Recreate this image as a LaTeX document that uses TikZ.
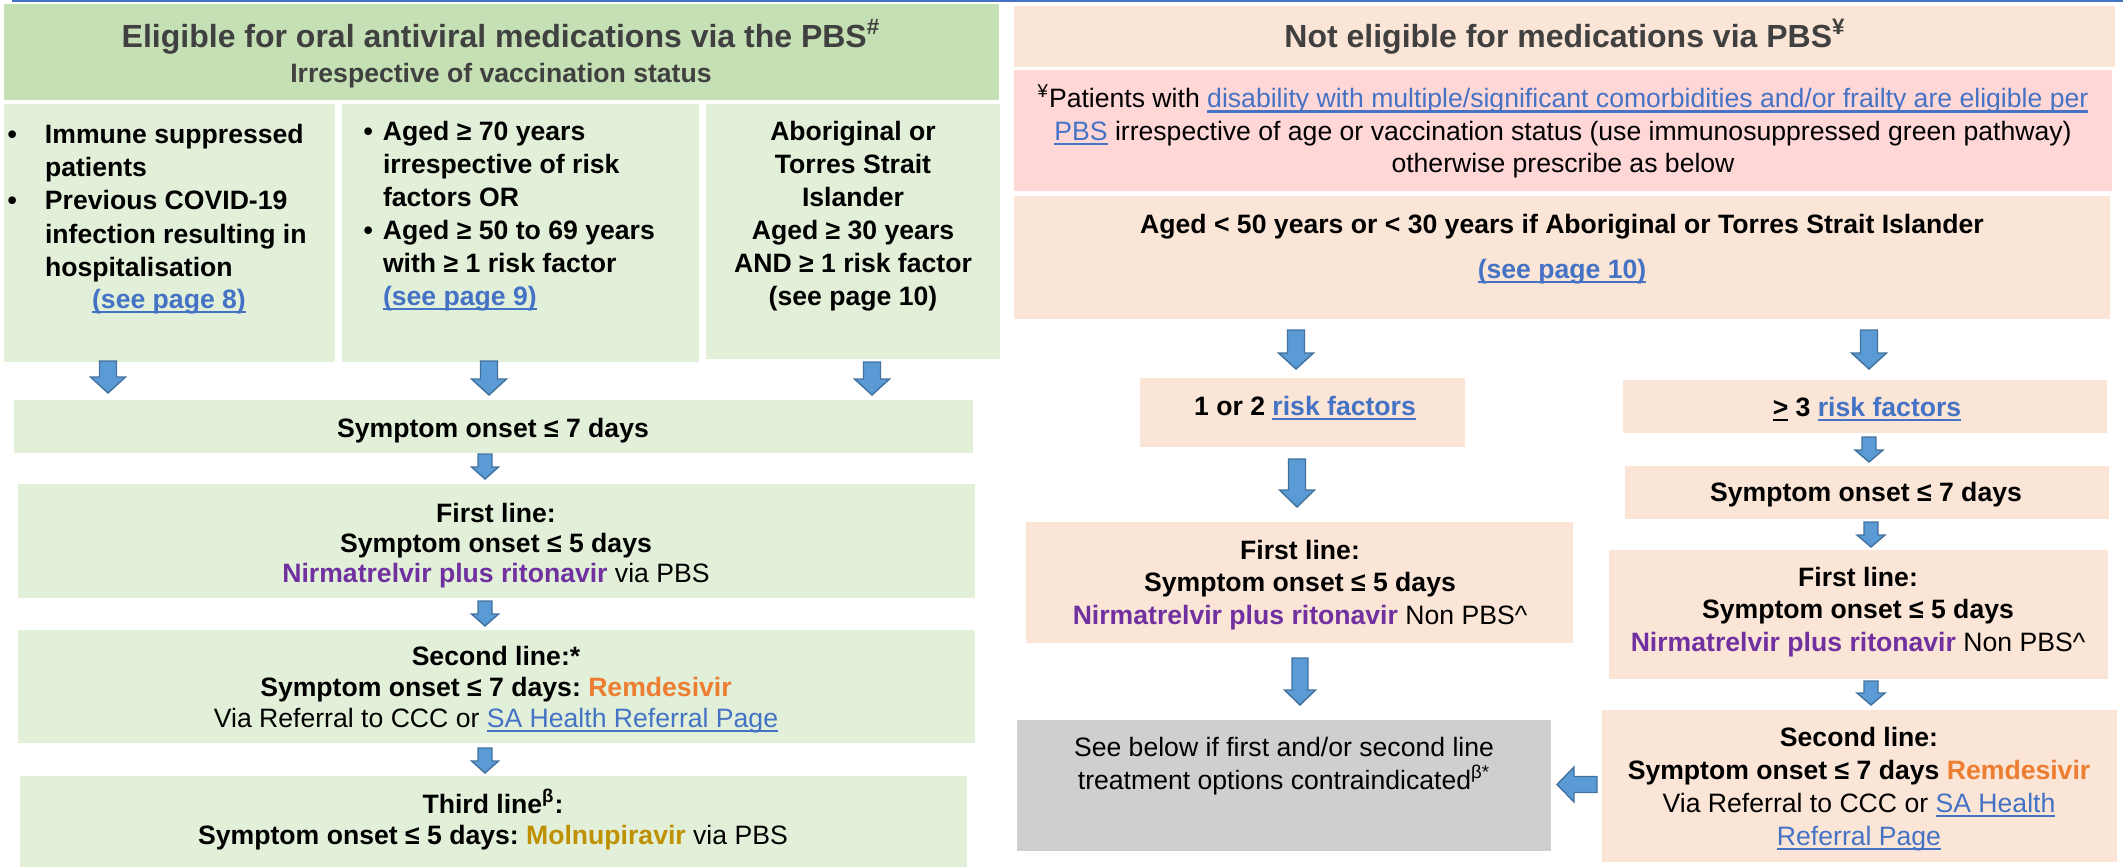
\documentclass[tikz,border=0pt]{standalone}
\usepackage{fontspec}
\setmainfont{Liberation Sans}
\frenchspacing
\definecolor{hdgreen}{HTML}{C5E0B4}
\definecolor{ltgreen}{HTML}{E2F0D9}
\definecolor{peach}{HTML}{FBE5D6}
\definecolor{pinkbox}{HTML}{FFD7D7}
\definecolor{greybox}{HTML}{D0CECE}
\definecolor{purp}{HTML}{7030A0}
\definecolor{orng}{HTML}{ED7D31}
\definecolor{goldc}{HTML}{BF9000}
\definecolor{linkc}{HTML}{4472C4}
\definecolor{titlegray}{HTML}{404040}
\definecolor{arrfill}{HTML}{5B9BD5}
\definecolor{arrline}{HTML}{41719C}
\definecolor{topline}{HTML}{4472C4}
\newcommand\tstrut{\rule{0pt}{0.85em}}
\newcommand\undl[1]{\setbox0=\hbox{#1}\rlap{\rule[-2.6pt]{\wd0}{1.2pt}}\box0\relax}
\newcommand\lnk[1]{{\color{linkc}\undl{#1}}}
\newcommand\titlef{\fontsize{16pt}{19pt}\selectfont\bfseries}
\newcommand\bodyf[1]{\fontsize{13.3pt}{#1}\selectfont}
\newcommand\boxat[6]{\node[boxst, fill=#2, anchor=north west, minimum width={(#5-#3)*0.5pt}, minimum height={(#6-#4)*0.5pt}] (#1) at (#3,#4) {};}
% down block arrow: centre x, top y, bottom (tip) y, head half-width, shaft half-width, head length
\newcommand\darrow[6]{\draw[blockarrow] (#1-#5,#2) -- (#1+#5,#2) -- (#1+#5,#3-#6) -- (#1+#4,#3-#6) -- (#1,#3) -- (#1-#4,#3-#6) -- (#1-#5,#3-#6) -- cycle;}
\begin{document}
\begin{tikzpicture}[x=0.5pt, y=-0.5pt,
  boxst/.style={inner sep=0pt, outer sep=0pt, draw=none},
  txt/.style={inner sep=0pt, outer sep=0pt, align=center},
  txtl/.style={inner sep=0pt, outer sep=0pt, align=left},
  blockarrow/.style={fill=arrfill, draw=arrline, line width=0.7pt, line join=miter}]
\useasboundingbox (0,0) rectangle (2123,867);
% top rule
\draw[topline, line width=1pt] (12,1) -- (2123,1);
% ---------- boxes ----------
\boxat{LH}{hdgreen}{4}{4}{999}{100}
\boxat{B1}{ltgreen}{4}{104}{335}{362}
\boxat{B2}{ltgreen}{342}{104}{699}{362}
\boxat{B3}{ltgreen}{706}{104}{1000}{359}
\boxat{LS}{ltgreen}{14}{400}{973}{453}
\boxat{LF}{ltgreen}{18}{484}{975}{598}
\boxat{LSe}{ltgreen}{18}{630}{975}{743}
\boxat{LT}{ltgreen}{20}{776}{967}{867}
\boxat{RH}{peach}{1014}{6}{2115}{67}
\boxat{RP}{pinkbox}{1014}{70}{2112}{191}
\boxat{RA}{peach}{1014}{196}{2110}{319}
\boxat{R12}{peach}{1140}{378}{1465}{447}
\boxat{R3}{peach}{1623}{380}{2107}{433}
\boxat{RS7}{peach}{1625}{466}{2109}{519}
\boxat{RF1}{peach}{1026}{522}{1573}{643}
\boxat{RF2}{peach}{1609}{550}{2108}{679}
\boxat{RG}{greybox}{1017}{720}{1551}{851}
\boxat{RSe}{peach}{1602}{710}{2117}{862}
% ---------- left texts ----------
\node[txt, anchor=base, text=titlegray, font=\titlef] (LHt) at (501,47) {Eligible for oral antiviral medications via the PBS\textsuperscript{\#}};
\node[txt, anchor=base, text=titlegray, font={\bodyf{16pt}\bfseries}] (LHs) at (501,82) {Irrespective of vaccination status};
\node[txtl, anchor=north west, font={\bodyf{16.7pt}\bfseries}] (B1t) at (45,120.4)
  {\tstrut\llap{•\hspace{14pt}}Immune suppressed\\patients\\\llap{•\hspace{14pt}}Previous COVID-19\\infection resulting in\\hospitalisation};
\node[txt, anchor=base, font={\bodyf{16pt}\bfseries}] (B1l) at (169,308) {\lnk{(see page 8)}};
\node[txtl, anchor=north west, font={\bodyf{16.5pt}\bfseries}] (B2t) at (383,117.4)
  {\tstrut\llap{•\hspace{5pt}}Aged ≥ 70 years\\irrespective of risk\\factors OR\\\llap{•\hspace{5pt}}Aged ≥ 50 to 69 years\\with ≥ 1 risk factor\\\lnk{(see page 9)}};
\node[txt, anchor=north, font={\bodyf{16.5pt}\bfseries}] (B3t) at (853,117.4)
  {\tstrut Aboriginal or\\Torres Strait\\Islander\\Aged ≥ 30 years\\AND ≥ 1 risk factor\\(see page 10)};
\node[txt, anchor=base, font={\bodyf{16pt}\bfseries}] (LSt) at (493,437) {Symptom onset ≤ 7 days};
\node[txt, anchor=north, font={\bodyf{15pt}\bfseries}] (LFt) at (496,499.4)
  {\tstrut First line:\\Symptom onset ≤ 5 days\\{\color{purp}Nirmatrelvir plus ritonavir} {\mdseries via PBS}};
\node[txt, anchor=north, font={\bodyf{15.5pt}\bfseries}] (LSet) at (496,642.4)
  {\tstrut Second line:*\\Symptom onset ≤ 7 days: {\color{orng}Remdesivir}\\{\mdseries Via Referral to CCC or \lnk{SA Health Referral Page}}};
\node[txt, anchor=north, font={\bodyf{15.5pt}\bfseries}] (LTt) at (493,789.4)
  {\tstrut Third line\textsuperscript{β}:\\Symptom onset ≤ 5 days: {\color{goldc}Molnupiravir} {\mdseries via PBS}};
% ---------- right texts ----------
\node[txt, anchor=base, text=titlegray, font=\titlef] (RHt) at (1565,47) {Not eligible for medications via PBS\textsuperscript{¥}};
\node[txt, anchor=north, font={\bodyf{16.25pt}}] (RPt) at (1563,84.4)
  {\tstrut\textsuperscript{¥}Patients with \lnk{disability with multiple/significant comorbidities and/or frailty are eligible per}\\\lnk{PBS} irrespective of age or vaccination status (use immunosuppressed green pathway)\\otherwise prescribe as below};
\node[txt, anchor=base, font={\bodyf{16pt}\bfseries}] (RAt) at (1562,233) {Aged < 50 years or < 30 years if Aboriginal or Torres Strait Islander};
\node[txt, anchor=base, font={\bodyf{16pt}\bfseries}] (RAl) at (1562,278) {\lnk{(see page 10)}};
\node[txt, anchor=base, font={\bodyf{16pt}\bfseries}] (R12t) at (1305,415) {1 or 2 \lnk{risk factors}};
\node[txt, anchor=base, font={\bodyf{16pt}\bfseries}] (R3t) at (1867,416) {\undl{>} 3 \lnk{risk factors}};
\node[txt, anchor=base, font={\bodyf{16pt}\bfseries}] (RS7t) at (1866,501) {Symptom onset ≤ 7 days};
\node[txt, anchor=north, font={\bodyf{16.25pt}\bfseries}] (RF1t) at (1300,536.4)
  {\tstrut First line:\\Symptom onset ≤ 5 days\\{\color{purp}Nirmatrelvir plus ritonavir} {\mdseries Non PBS\textasciicircum}};
\node[txt, anchor=north, font={\bodyf{16.25pt}\bfseries}] (RF2t) at (1858,563.4)
  {\tstrut First line:\\Symptom onset ≤ 5 days\\{\color{purp}Nirmatrelvir plus ritonavir} {\mdseries Non PBS\textasciicircum}};
\node[txt, anchor=north, font={\bodyf{16.5pt}}] (RGt) at (1284,733.4)
  {\tstrut See below if first and/or second line\\treatment options contraindicated\textsuperscript{β*}};
\node[txt, anchor=north, font={\bodyf{16.5pt}\bfseries}] (RSet) at (1859,723.4)
  {\tstrut Second line:\\Symptom onset ≤ 7 days {\color{orng}Remdesivir}\\{\mdseries Via Referral to CCC or \lnk{SA Health}}\\{\mdseries\lnk{Referral Page}}};
% ---------- block arrows ----------
\darrow{108}{361}{393}{17.5}{8.5}{16}
\darrow{489}{361}{395}{17.5}{8.5}{16}
\darrow{872}{362}{395}{17.5}{8.5}{16}
\darrow{485}{454}{479}{13.5}{7}{12}
\darrow{485}{601}{626}{13.5}{7}{12}
\darrow{485}{748}{773}{13.5}{7}{12}
\darrow{1296}{330}{369}{17.5}{8.5}{16}
\darrow{1869}{330}{369}{17.5}{8.5}{16}
\darrow{1869}{437}{462}{14}{7}{12}
\darrow{1871}{522}{547}{14}{7}{12}
\darrow{1871}{681}{705}{14}{7}{12}
\darrow{1297}{459}{507}{17.5}{8.5}{17}
\darrow{1300}{658}{705}{15.5}{8}{15}
% left-pointing arrow into the grey box
\draw[blockarrow] (1597,776.5) -- (1597,792.5) -- (1574,792.5) -- (1574,802) -- (1557,784.5) -- (1574,767) -- (1574,776.5) -- cycle;
\end{tikzpicture}
\end{document}
